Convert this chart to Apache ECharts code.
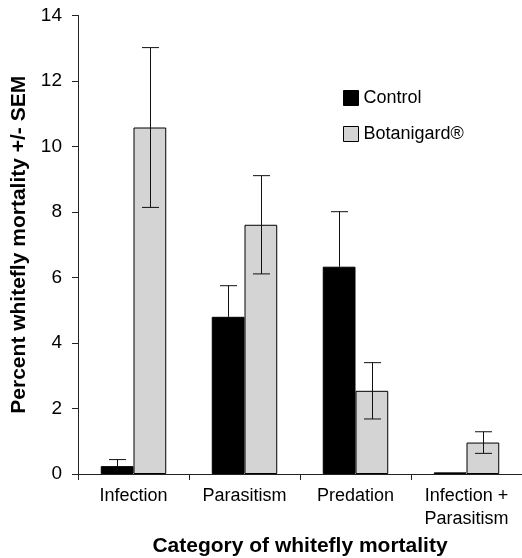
<!DOCTYPE html>
<html><head><meta charset="utf-8">
<script src="https://cdn.jsdelivr.net/npm/echarts@6/dist/echarts.min.js"></script>
<style>html,body{margin:0;padding:0;background:#fff}#c{width:522px;height:558px}</style>
</head><body><div id="c"></div>
<script>
const categories = ['Infection', 'Parasitism', 'Predation', 'Infection +\nParasitism'];
const controlValues = [0.24, 4.80, 6.33, 0.05];
const controlSEM = [0.20, 0.95, 1.68, 0];
const botanigardValues = [10.58, 7.61, 2.54, 0.96];
const botanigardSEM = [2.44, 1.50, 0.86, 0.33];
const yTicks = [0, 2, 4, 6, 8, 10, 12, 14];

const FONT = '"Liberation Sans", Arial, sans-serif';
const GAP = 0.41;

function errData(vals, sems) {
  return vals.map((v, i) => [i, v - sems[i], v + sems[i]]);
}
function errSeries(name, vals, sems, side, showLower) {
  return {
    type: 'custom', name: name + ' SEM', z: 5, silent: true,
    data: errData(vals, sems),
    renderItem: function (params, api) {
      const i = api.value(0);
      if (api.value(2) - api.value(1) <= 0) return null;
      const band = api.size([1, 0])[0];
      const bw = band * (1 - GAP) / 2;
      const off = side * bw / 2;
      const mid = api.coord([i, (api.value(1) + api.value(2)) / 2]);
      const lo = api.coord([i, api.value(1)]);
      const hi = api.coord([i, api.value(2)]);
      const x = Math.round(lo[0] + off) + 0.5;
      const cap = 8.5;
      const st = { stroke: '#111', lineWidth: 1 };
      const ch = [
        { type: 'line', shape: { x1: x, y1: showLower ? lo[1] : mid[1], x2: x, y2: hi[1] }, style: st },
        { type: 'line', shape: { x1: x - cap, y1: hi[1], x2: x + cap, y2: hi[1] }, style: st }
      ];
      if (showLower) ch.push({ type: 'line', shape: { x1: x - cap, y1: lo[1], x2: x + cap, y2: lo[1] }, style: st });
      return { type: 'group', children: ch };
    }
  };
}

const chart = echarts.init(document.getElementById('c'));
chart.setOption({
  animation: false,
  textStyle: { fontFamily: FONT },
  grid: { left: 78, right: 0, top: 15.5, bottom: 84, containLabel: false, outerBoundsMode: 'none' },
  legend: {
    orient: 'vertical', left: 338, top: 84, itemWidth: 15, itemHeight: 15, itemGap: 18,
    textStyle: { fontFamily: FONT, fontSize: 18, color: '#000' },
    data: [
      { name: 'Control', icon: 'rect', itemStyle: { color: '#000', borderColor: '#000', borderWidth: 1 } },
      { name: 'Botanigard®', icon: 'rect', itemStyle: { color: '#d4d4d4', borderColor: '#000', borderWidth: 1 } }
    ]
  },
  xAxis: {
    type: 'category', data: categories,
    name: 'Category of whitefly mortality', nameLocation: 'middle', nameGap: 58,
    nameTextStyle: { fontFamily: FONT, fontSize: 21, fontWeight: 'bold', color: '#000' },
    axisLine: { lineStyle: { color: '#222', width: 1 } },
    axisTick: { show: true, length: 6, lineStyle: { color: '#222' } },
    axisLabel: { fontFamily: FONT, fontSize: 18, color: '#000', margin: 11, lineHeight: 23, interval: 0 }
  },
  yAxis: {
    type: 'value', min: 0, max: 14, interval: 2,
    name: 'Percent whitefly mortality +/- SEM', nameLocation: 'middle', nameGap: 47,
    nameTextStyle: { fontFamily: FONT, fontSize: 21, fontWeight: 'bold', color: '#000' },
    axisLine: { show: true, lineStyle: { color: '#222', width: 1 } },
    axisTick: { show: true, length: 6, lineStyle: { color: '#222' } },
    axisLabel: { fontFamily: FONT, fontSize: 19, color: '#000', margin: 16, formatter: v => yTicks.includes(v) ? String(v) : '' },
    splitLine: { show: false }
  },
  series: [
    { name: 'Control', type: 'bar', data: controlValues, barGap: 0, barCategoryGap: '41%',
      itemStyle: { color: '#000', borderColor: '#000', borderWidth: 1 } },
    { name: 'Botanigard®', type: 'bar', data: botanigardValues, barGap: 0, barCategoryGap: '41%',
      itemStyle: { color: '#d4d4d4', borderColor: '#000', borderWidth: 1 } },
    errSeries('Control', controlValues, controlSEM, -1, false),
    errSeries('Botanigard®', botanigardValues, botanigardSEM, 1, true)
  ]
});
</script></body></html>
